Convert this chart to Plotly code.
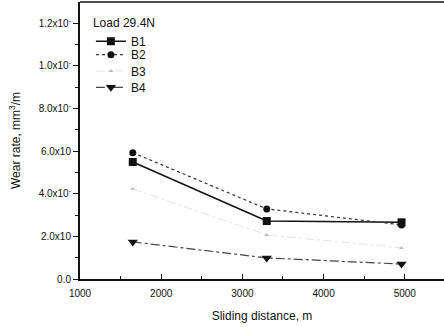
import plotly.graph_objects as go

distance = [1650, 3300, 4960]
b1 = [0.549, 0.272, 0.266]
b2 = [0.593, 0.329, 0.254]
b3 = [0.423, 0.207, 0.146]
b4 = [0.174, 0.099, 0.070]

y_tickvals = [0.0, 0.2, 0.4, 0.6, 0.8, 1.0, 1.2]
y_ticktext = ["0.0", "2.0x10", "4.0x10<sup>-</sup>", "6.0x10", "8.0x10<sup>-</sup>",
              "1.0x10<sup>-</sup>", "1.2x10<sup>-</sup>"]
x_tickvals = [1000, 2000, 3000, 4000, 5000]
x_ticktext = ["1000", "2000", "3000", "4000", "5000"]

fig = go.Figure()
fig.add_trace(go.Scatter(x=distance, y=b1, name="B1", mode="lines+markers", legend="legend",
                         line=dict(color="#111", width=1.6, dash="solid"),
                         marker=dict(symbol="square", size=8, color="#111")))
fig.add_trace(go.Scatter(x=distance, y=b2, name="B2", mode="lines+markers", legend="legend2",
                         line=dict(color="#333", width=1.2, dash="dot"),
                         marker=dict(symbol="circle", size=7, color="#111")))
fig.add_trace(go.Scatter(x=distance, y=b3, name="B3", mode="lines+markers", legend="legend3",
                         line=dict(color="#e4e4e4", width=1, dash="dashdot"),
                         marker=dict(symbol="triangle-up", size=4, color="#bbb")))
fig.add_trace(go.Scatter(x=distance, y=b4, name="B4", mode="lines+markers", legend="legend4",
                         line=dict(color="#444", width=1.2, dash="dashdot"),
                         marker=dict(symbol="triangle-down", size=9, color="#111")))

leg_common = dict(x=0.03, xanchor="left", font=dict(size=12), bgcolor="rgba(0,0,0,0)",
                  itemwidth=30, tracegroupgap=0)

fig.update_layout(
    width=444, height=327,
    margin=dict(l=80, r=0, t=2, b=48, autoexpand=False),
    paper_bgcolor="white", plot_bgcolor="white",
    font=dict(family="Liberation Sans, Arial, sans-serif", color="#111", size=10),
    showlegend=True,
    legend=dict(y=0.967, yanchor="top",
                title=dict(text="Load 29.4N", font=dict(size=12)), **leg_common),
    legend2=dict(y=0.810, yanchor="middle", **leg_common),
    legend3=dict(y=0.751, yanchor="middle", **leg_common),
    legend4=dict(y=0.692, yanchor="middle", **leg_common),
    xaxis=dict(range=[1000, 5483], tickvals=x_tickvals, ticktext=x_ticktext,
               automargin=False,
               showgrid=False, zeroline=False, showline=True, linecolor="#111", linewidth=2,
               ticks="inside", ticklen=5, tickcolor="#111", ticklabelstandoff=4,
               minor=dict(dtick=500, ticks="inside", ticklen=3, tickcolor="#111"),
               tickfont=dict(size=10),
               title=dict(text="Sliding distance, m", font=dict(size=12), standoff=14)),
    yaxis=dict(range=[0, 1.3], tickvals=y_tickvals, ticktext=y_ticktext,
               automargin=False,
               showgrid=False, zeroline=False, showline=True, linecolor="#111", linewidth=2,
               ticks="outside", ticklen=5, tickcolor="#111",
               minor=dict(tickvals=[0.1, 0.3, 0.5, 0.7, 0.9, 1.1], ticks="outside", ticklen=3,
                          tickcolor="#111"),
               tickfont=dict(size=10),
               title=dict(text="Wear rate, mm<sup>3</sup>/m", font=dict(size=12), standoff=15)),
)
fig.add_shape(type="line", xref="x domain", yref="y domain", x0=0, x1=1, y0=1, y1=1,
              line=dict(color="#111", width=1.5))

fig.write_html("out.html", config={"displayModeBar": False},
               post_script="document.body.style.margin='0';")
